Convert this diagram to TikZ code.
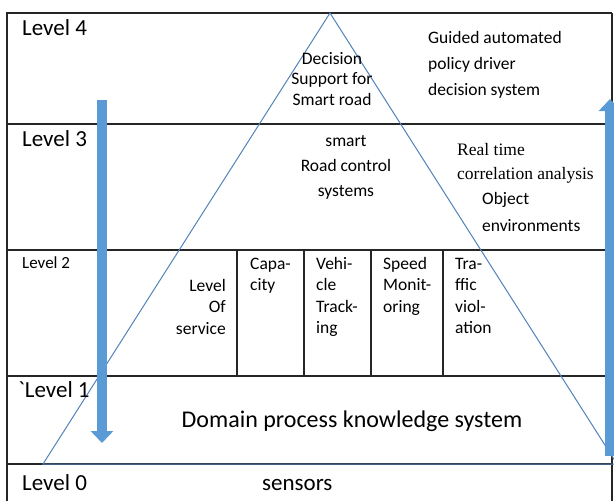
\documentclass[tikz,border=0pt]{standalone}
\usepackage{fontspec}
\setmainfont{Carlito}
\newfontfamily\rawfont{Carlito}[Ligatures=TeXOff]
\newfontfamily\timesfont{Liberation Serif}
\usetikzlibrary{arrows.meta}

\definecolor{rulegray}{RGB}{38,38,38}
\definecolor{triblue}{RGB}{84,130,186}
\definecolor{arrowblue}{RGB}{91,155,213}

\newcommand\bigtxt{\fontsize{23}{27}\selectfont}
\newcommand\smalltxt{\fontsize{17.5}{21.5}\selectfont}

\tikzset{
  rule/.style={draw=rulegray, line width=1.2pt},
  tri/.style={draw=triblue, line width=1pt},
  blockarrow/.style={draw=arrowblue, line width=9.5pt,
    -{Triangle[width=22pt,length=12pt]}},
  lvl/.style={inner sep=0pt, anchor=base west, font=\bigtxt},
  txt/.style={inner sep=0pt, anchor=base west, align=left, font=\smalltxt},
}

\begin{document}
\begin{tikzpicture}[x=1pt, y=-1pt]
  \useasboundingbox (0,0) rectangle (614,501);
  \clip (0,0) rectangle (614,501);

  % table
  \draw[rule] (612,13) -- (7,13) -- (7,501);
  \draw[rule] (612,13) -- (612,501);
  \foreach \y in {124,250,376,464}
    \draw[rule] (7,\y) -- (612,\y);
  \foreach \x in {237,304,371,443}
    \draw[rule] (\x,250) -- (\x,376);

  % pyramid
  \coordinate (apex) at (330,13);
  \coordinate (baseL) at (43,464);
  \coordinate (baseR) at (617,464);
  \draw[tri] (baseL) -- (apex) -- (baseR) -- cycle;

  % level names
  \node (lv4) [lvl] at (22,35) {Level 4};
  \node (lv3) [lvl] at (22,146) {Level 3};
  \node (lv2) [lvl, font=\fontsize{17}{20}\selectfont] at (22,268) {Level 2};
  \node (lv1) [lvl, font=\rawfont\bigtxt] at (18,397) {`Level 1};
  \node (lv0) [lvl] at (22,490) {Level 0};

  % level 4 (base = last line)
  \node (dss) [txt, align=center, anchor=base, font=\fontsize{17.5}{20.5}\selectfont]
    at (332,105) {Decision\\Support for\\Smart road};
  \node (guided) [txt, font=\fontsize{17.5}{26}\selectfont]
    at (428,95) {Guided automated\\policy driver\\decision system};

  % level 3
  \node (roadctl) [txt, align=center, anchor=base, font=\fontsize{17.5}{25}\selectfont]
    at (346,196) {smart\\Road control\\systems};
  \node (realtime) [txt, font=\timesfont\fontsize{17.5}{24}\selectfont]
    at (457,179) {Real time\\correlation analysis};
  \node (objenv) [txt, font=\fontsize{17.5}{27}\selectfont]
    at (482,231) {Object\\environments};

  % level 2
  \node (los) [txt, align=right, anchor=base east] at (226,334) {Level\\Of\\service};
  \node (capa) [txt] at (250,290.5) {Capa-\\city};
  \node (track) [txt] at (316,333.5) {Vehi-\\cle\\Track-\\ing};
  \node (speed) [txt] at (383,312) {Speed\\Monit-\\oring};
  \node (viol) [txt] at (455,333.5) {Tra-\\ffic\\viol-\\ation};

  % level 1 and 0
  \node (domain) [lvl, anchor=base, font=\fontsize{24}{28}\selectfont]
    at (352,427) {Domain process knowledge system};
  \node (sensors) [lvl] at (262,490) {sensors};

  % flow arrows
  \coordinate (dnS) at (102,100);
  \coordinate (dnE) at (102,443);
  \coordinate (upS) at (610,456);
  \coordinate (upE) at (610,99);
  \draw[blockarrow] (dnS) -- (dnE);
  \draw[blockarrow] (upS) -- (upE);
\end{tikzpicture}
\end{document}
